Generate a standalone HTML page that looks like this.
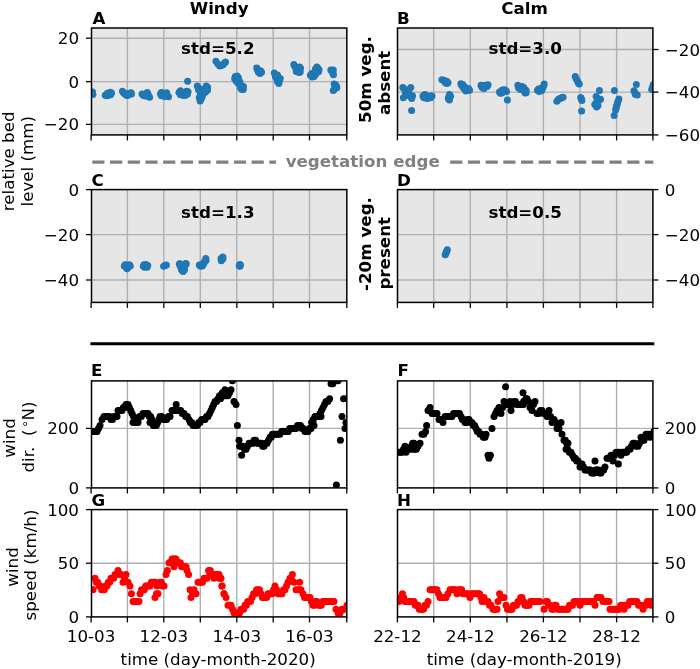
<!DOCTYPE html>
<html lang="en">
<head>
<meta charset="utf-8">
<title>Bed level and wind time series</title>
<style>
html,body{margin:0;padding:0;background:#fff;}
body{width:700px;height:669px;overflow:hidden;}
svg{display:block;font-family:'DejaVu Sans', 'Liberation Sans', sans-serif;will-change:transform;}
</style>
</head>
<body>
<svg width="700" height="669" viewBox="0 0 700 669">
<rect width="700" height="669" fill="#fff"/>
<rect x="91.5" y="28" width="255.3" height="106.9" fill="#e6e6e6"/>
<line x1="127.4" y1="28" x2="127.4" y2="134.9" stroke="#b0b0b0" stroke-width="1.4"/>
<line x1="163.8" y1="28" x2="163.8" y2="134.9" stroke="#b0b0b0" stroke-width="1.4"/>
<line x1="200.3" y1="28" x2="200.3" y2="134.9" stroke="#b0b0b0" stroke-width="1.4"/>
<line x1="236.8" y1="28" x2="236.8" y2="134.9" stroke="#b0b0b0" stroke-width="1.4"/>
<line x1="273.2" y1="28" x2="273.2" y2="134.9" stroke="#b0b0b0" stroke-width="1.4"/>
<line x1="309.5" y1="28" x2="309.5" y2="134.9" stroke="#b0b0b0" stroke-width="1.4"/>
<line x1="91.5" y1="124.4" x2="346.8" y2="124.4" stroke="#b0b0b0" stroke-width="1.4"/>
<line x1="91.5" y1="81.6" x2="346.8" y2="81.6" stroke="#b0b0b0" stroke-width="1.4"/>
<line x1="91.5" y1="38.2" x2="346.8" y2="38.2" stroke="#b0b0b0" stroke-width="1.4"/>
<clipPath id="c1"><rect x="91.5" y="28" width="255.3" height="106.9"/></clipPath>
<g clip-path="url(#c1)" fill="#1f77b4">
<circle cx="92.47" cy="93.16" r="3.5"/>
<circle cx="92.87" cy="94.52" r="3.5"/>
<circle cx="92.5" cy="92" r="3.5"/>
<circle cx="105.27" cy="95.34" r="3.5"/>
<circle cx="106.89" cy="95.69" r="3.5"/>
<circle cx="108.46" cy="94.32" r="3.5"/>
<circle cx="109.57" cy="93.75" r="3.5"/>
<circle cx="111.54" cy="93" r="3.5"/>
<circle cx="107.42" cy="93.27" r="3.5"/>
<circle cx="109.27" cy="95.06" r="3.5"/>
<circle cx="110.53" cy="94.82" r="3.5"/>
<circle cx="110.21" cy="92.21" r="3.5"/>
<circle cx="122.44" cy="91.24" r="3.5"/>
<circle cx="123.48" cy="92.65" r="3.5"/>
<circle cx="125" cy="93.96" r="3.5"/>
<circle cx="126.28" cy="95.09" r="3.5"/>
<circle cx="127.43" cy="95.51" r="3.5"/>
<circle cx="128.59" cy="94.72" r="3.5"/>
<circle cx="130" cy="93.54" r="3.5"/>
<circle cx="131.02" cy="92.64" r="3.5"/>
<circle cx="131.5" cy="93.98" r="3.5"/>
<circle cx="127.52" cy="93.87" r="3.5"/>
<circle cx="125.5" cy="93.56" r="3.5"/>
<circle cx="141.99" cy="94.09" r="3.5"/>
<circle cx="143.49" cy="95.41" r="3.5"/>
<circle cx="144.94" cy="94.23" r="3.5"/>
<circle cx="146.05" cy="93.5" r="3.5"/>
<circle cx="147.3" cy="92.46" r="3.5"/>
<circle cx="148.03" cy="94.18" r="3.5"/>
<circle cx="148.53" cy="95.82" r="3.5"/>
<circle cx="149.59" cy="97.22" r="3.5"/>
<circle cx="146.78" cy="96.05" r="3.5"/>
<circle cx="145.3" cy="96.1" r="3.5"/>
<circle cx="160.49" cy="94.1" r="3.5"/>
<circle cx="161.39" cy="92.61" r="3.5"/>
<circle cx="162.85" cy="93.36" r="3.5"/>
<circle cx="164.15" cy="94.48" r="3.5"/>
<circle cx="165.5" cy="94.96" r="3.5"/>
<circle cx="166.62" cy="92.83" r="3.5"/>
<circle cx="167.52" cy="95.85" r="3.5"/>
<circle cx="168.55" cy="96.79" r="3.5"/>
<circle cx="161.47" cy="95.83" r="3.5"/>
<circle cx="164.84" cy="96.53" r="3.5"/>
<circle cx="163.71" cy="96.05" r="3.5"/>
<circle cx="179" cy="92.57" r="3.5"/>
<circle cx="180.4" cy="90.8" r="3.5"/>
<circle cx="181.93" cy="92.25" r="3.5"/>
<circle cx="183.47" cy="93.16" r="3.5"/>
<circle cx="184.62" cy="92.33" r="3.5"/>
<circle cx="186.58" cy="91.27" r="3.5"/>
<circle cx="188.03" cy="91.67" r="3.5"/>
<circle cx="187.51" cy="93.91" r="3.5"/>
<circle cx="182.29" cy="95.09" r="3.5"/>
<circle cx="185.64" cy="95.15" r="3.5"/>
<circle cx="183.93" cy="95.5" r="3.5"/>
<circle cx="180.45" cy="94.78" r="3.5"/>
<circle cx="187.6" cy="81.2" r="3.5"/>
<circle cx="197.32" cy="85.89" r="3.5"/>
<circle cx="198.83" cy="87.88" r="3.5"/>
<circle cx="200.84" cy="90.36" r="3.5"/>
<circle cx="202.5" cy="92" r="3.5"/>
<circle cx="204.22" cy="88.92" r="3.5"/>
<circle cx="206.22" cy="85.92" r="3.5"/>
<circle cx="207.62" cy="87.32" r="3.5"/>
<circle cx="207.52" cy="90.16" r="3.5"/>
<circle cx="203.68" cy="93.61" r="3.5"/>
<circle cx="200.37" cy="93.66" r="3.5"/>
<circle cx="199.24" cy="97.56" r="3.5"/>
<circle cx="200.11" cy="101.01" r="3.5"/>
<circle cx="202.02" cy="97" r="3.5"/>
<circle cx="205.5" cy="91.98" r="3.5"/>
<circle cx="202.82" cy="90.47" r="3.5"/>
<circle cx="198.44" cy="89.74" r="3.5"/>
<circle cx="201.08" cy="99.01" r="3.5"/>
<circle cx="215.95" cy="61.23" r="3.5"/>
<circle cx="218" cy="63.99" r="3.5"/>
<circle cx="219.78" cy="66.08" r="3.5"/>
<circle cx="221.43" cy="65.5" r="3.5"/>
<circle cx="223.05" cy="64.78" r="3.5"/>
<circle cx="224.51" cy="63.12" r="3.5"/>
<circle cx="225.54" cy="62" r="3.5"/>
<circle cx="235.26" cy="76.43" r="3.5"/>
<circle cx="236.74" cy="78.44" r="3.5"/>
<circle cx="238.21" cy="80.95" r="3.5"/>
<circle cx="239.11" cy="82.68" r="3.5"/>
<circle cx="240.71" cy="85.09" r="3.5"/>
<circle cx="242.23" cy="87.58" r="3.5"/>
<circle cx="243.24" cy="89.57" r="3.5"/>
<circle cx="237.13" cy="75.98" r="3.5"/>
<circle cx="236.35" cy="79.86" r="3.5"/>
<circle cx="234.67" cy="78.64" r="3.5"/>
<circle cx="236.25" cy="81.22" r="3.5"/>
<circle cx="238.27" cy="83.58" r="3.5"/>
<circle cx="240.37" cy="87.82" r="3.5"/>
<circle cx="243.42" cy="86.47" r="3.5"/>
<circle cx="239.91" cy="81.81" r="3.5"/>
<circle cx="238.54" cy="78" r="3.5"/>
<circle cx="241.81" cy="89.54" r="3.5"/>
<circle cx="256.79" cy="67.91" r="3.5"/>
<circle cx="257.44" cy="70.24" r="3.5"/>
<circle cx="258.32" cy="72.11" r="3.5"/>
<circle cx="259.85" cy="73.52" r="3.5"/>
<circle cx="261.55" cy="72.29" r="3.5"/>
<circle cx="260.53" cy="70.66" r="3.5"/>
<circle cx="274.26" cy="72.93" r="3.5"/>
<circle cx="275.75" cy="75.43" r="3.5"/>
<circle cx="277.15" cy="77.48" r="3.5"/>
<circle cx="278.1" cy="78.7" r="3.5"/>
<circle cx="279.23" cy="81.08" r="3.5"/>
<circle cx="278.86" cy="83.52" r="3.5"/>
<circle cx="276.85" cy="78.64" r="3.5"/>
<circle cx="280.3" cy="78.45" r="3.5"/>
<circle cx="277.48" cy="81.5" r="3.5"/>
<circle cx="275.41" cy="76.79" r="3.5"/>
<circle cx="277.48" cy="75" r="3.5"/>
<circle cx="293.82" cy="64.38" r="3.5"/>
<circle cx="294.89" cy="66.81" r="3.5"/>
<circle cx="296.5" cy="69.03" r="3.5"/>
<circle cx="297.56" cy="71" r="3.5"/>
<circle cx="299.06" cy="69.77" r="3.5"/>
<circle cx="300.53" cy="68.16" r="3.5"/>
<circle cx="300.19" cy="72.11" r="3.5"/>
<circle cx="296.26" cy="71.57" r="3.5"/>
<circle cx="298.85" cy="72.52" r="3.5"/>
<circle cx="297.95" cy="67.5" r="3.5"/>
<circle cx="299.67" cy="66.88" r="3.5"/>
<circle cx="310.42" cy="75.24" r="3.5"/>
<circle cx="312.26" cy="77.07" r="3.5"/>
<circle cx="313.76" cy="74.57" r="3.5"/>
<circle cx="315" cy="72.5" r="3.5"/>
<circle cx="316.25" cy="70.43" r="3.5"/>
<circle cx="317.75" cy="67.93" r="3.5"/>
<circle cx="319.08" cy="69.77" r="3.5"/>
<circle cx="316.85" cy="66.98" r="3.5"/>
<circle cx="311.77" cy="73.62" r="3.5"/>
<circle cx="314.12" cy="76.51" r="3.5"/>
<circle cx="315.83" cy="74.03" r="3.5"/>
<circle cx="318.5" cy="71.86" r="3.5"/>
<circle cx="315.46" cy="69" r="3.5"/>
<circle cx="330.82" cy="69.89" r="3.5"/>
<circle cx="332.38" cy="71.82" r="3.5"/>
<circle cx="332.89" cy="73.51" r="3.5"/>
<circle cx="333.44" cy="74.73" r="3.5"/>
<circle cx="333.31" cy="69.96" r="3.5"/>
<circle cx="334.16" cy="84.08" r="3.5"/>
<circle cx="335.7" cy="84.99" r="3.5"/>
<circle cx="336.57" cy="86.55" r="3.5"/>
<circle cx="335.31" cy="87.54" r="3.5"/>
<circle cx="334.21" cy="89.55" r="3.5"/>
<circle cx="333.26" cy="90.57" r="3.5"/>
<circle cx="336.82" cy="87.85" r="3.5"/>
</g>
<rect x="91.5" y="28" width="255.3" height="106.9" fill="none" stroke="#000" stroke-width="1.5"/>
<line x1="91.1" y1="134.9" x2="91.1" y2="140.4" stroke="#000" stroke-width="1.3"/>
<line x1="127.4" y1="134.9" x2="127.4" y2="140.4" stroke="#000" stroke-width="1.3"/>
<line x1="163.8" y1="134.9" x2="163.8" y2="140.4" stroke="#000" stroke-width="1.3"/>
<line x1="200.3" y1="134.9" x2="200.3" y2="140.4" stroke="#000" stroke-width="1.3"/>
<line x1="236.8" y1="134.9" x2="236.8" y2="140.4" stroke="#000" stroke-width="1.3"/>
<line x1="273.2" y1="134.9" x2="273.2" y2="140.4" stroke="#000" stroke-width="1.3"/>
<line x1="309.5" y1="134.9" x2="309.5" y2="140.4" stroke="#000" stroke-width="1.3"/>
<line x1="346.8" y1="134.9" x2="346.8" y2="140.4" stroke="#000" stroke-width="1.3"/>
<line x1="86" y1="124.4" x2="91.5" y2="124.4" stroke="#000" stroke-width="1.3"/>
<text x="79" y="130.4" font-size="16.7" font-weight="normal" fill="#000" text-anchor="end">−20</text>
<line x1="86" y1="81.6" x2="91.5" y2="81.6" stroke="#000" stroke-width="1.3"/>
<text x="79" y="87.6" font-size="16.7" font-weight="normal" fill="#000" text-anchor="end">0</text>
<line x1="86" y1="38.2" x2="91.5" y2="38.2" stroke="#000" stroke-width="1.3"/>
<text x="79" y="44.2" font-size="16.7" font-weight="normal" fill="#000" text-anchor="end">20</text>
<text x="92.42" y="24.4" font-size="16.7" font-weight="bold" fill="#000" text-anchor="start">A</text>
<rect x="397.5" y="28" width="255.4" height="106.9" fill="#e6e6e6"/>
<line x1="433.7" y1="28" x2="433.7" y2="134.9" stroke="#b0b0b0" stroke-width="1.4"/>
<line x1="470.3" y1="28" x2="470.3" y2="134.9" stroke="#b0b0b0" stroke-width="1.4"/>
<line x1="506.9" y1="28" x2="506.9" y2="134.9" stroke="#b0b0b0" stroke-width="1.4"/>
<line x1="543.4" y1="28" x2="543.4" y2="134.9" stroke="#b0b0b0" stroke-width="1.4"/>
<line x1="580" y1="28" x2="580" y2="134.9" stroke="#b0b0b0" stroke-width="1.4"/>
<line x1="616.6" y1="28" x2="616.6" y2="134.9" stroke="#b0b0b0" stroke-width="1.4"/>
<line x1="397.5" y1="92.1" x2="652.9" y2="92.1" stroke="#b0b0b0" stroke-width="1.4"/>
<line x1="397.5" y1="49.5" x2="652.9" y2="49.5" stroke="#b0b0b0" stroke-width="1.4"/>
<clipPath id="c2"><rect x="397.5" y="28" width="255.4" height="106.9"/></clipPath>
<g clip-path="url(#c2)" fill="#1f77b4">
<circle cx="402.83" cy="87.38" r="3.5"/>
<circle cx="404.83" cy="89.87" r="3.5"/>
<circle cx="406.88" cy="92.33" r="3.5"/>
<circle cx="408.84" cy="89.47" r="3.5"/>
<circle cx="410.76" cy="87.44" r="3.5"/>
<circle cx="407.84" cy="93.53" r="3.5"/>
<circle cx="405.33" cy="95.63" r="3.5"/>
<circle cx="403.34" cy="97.63" r="3.5"/>
<circle cx="410.68" cy="96.62" r="3.5"/>
<circle cx="412.56" cy="95.76" r="3.5"/>
<circle cx="411.71" cy="98.6" r="3.5"/>
<circle cx="408.67" cy="91.87" r="3.5"/>
<circle cx="405.5" cy="93" r="3.5"/>
<circle cx="411.6" cy="110.4" r="3.5"/>
<circle cx="423" cy="96.07" r="3.5"/>
<circle cx="424.99" cy="96.92" r="3.5"/>
<circle cx="426.71" cy="95.96" r="3.5"/>
<circle cx="428" cy="96.54" r="3.5"/>
<circle cx="430.01" cy="96.09" r="3.5"/>
<circle cx="432" cy="96.05" r="3.5"/>
<circle cx="427" cy="98.5" r="3.5"/>
<circle cx="425.34" cy="94.86" r="3.5"/>
<circle cx="424.41" cy="94.79" r="3.5"/>
<circle cx="428.19" cy="98.11" r="3.5"/>
<circle cx="430.52" cy="97.66" r="3.5"/>
<circle cx="423.96" cy="97.82" r="3.5"/>
<circle cx="441.94" cy="79.74" r="3.5"/>
<circle cx="443.89" cy="80.32" r="3.5"/>
<circle cx="445.5" cy="81" r="3.5"/>
<circle cx="447" cy="81.54" r="3.5"/>
<circle cx="446.73" cy="83.58" r="3.5"/>
<circle cx="445.17" cy="82.53" r="3.5"/>
<circle cx="448.04" cy="82.79" r="3.5"/>
<circle cx="449.47" cy="94.5" r="3.5"/>
<circle cx="448.88" cy="96.83" r="3.5"/>
<circle cx="448.29" cy="98.59" r="3.5"/>
<circle cx="449.47" cy="100" r="3.5"/>
<circle cx="450.59" cy="96.29" r="3.5"/>
<circle cx="460.86" cy="83.84" r="3.5"/>
<circle cx="461.91" cy="85.78" r="3.5"/>
<circle cx="463.5" cy="88.02" r="3.5"/>
<circle cx="465.08" cy="89.51" r="3.5"/>
<circle cx="466.75" cy="90.57" r="3.5"/>
<circle cx="468.56" cy="89.77" r="3.5"/>
<circle cx="469.56" cy="90.27" r="3.5"/>
<circle cx="464.27" cy="86.42" r="3.5"/>
<circle cx="462.78" cy="84.41" r="3.5"/>
<circle cx="464.91" cy="87.79" r="3.5"/>
<circle cx="466.56" cy="88.76" r="3.5"/>
<circle cx="465.9" cy="91.01" r="3.5"/>
<circle cx="468.5" cy="88.44" r="3.5"/>
<circle cx="480.97" cy="85.18" r="3.5"/>
<circle cx="482.99" cy="86.12" r="3.5"/>
<circle cx="484.45" cy="85.5" r="3.5"/>
<circle cx="486.09" cy="85.28" r="3.5"/>
<circle cx="488.05" cy="84.71" r="3.5"/>
<circle cx="483.27" cy="88.08" r="3.5"/>
<circle cx="484.74" cy="87.07" r="3.5"/>
<circle cx="481.97" cy="87.33" r="3.5"/>
<circle cx="487" cy="86.49" r="3.5"/>
<circle cx="484.07" cy="88.5" r="3.5"/>
<circle cx="499.49" cy="91.9" r="3.5"/>
<circle cx="501.5" cy="91.05" r="3.5"/>
<circle cx="502.93" cy="90.99" r="3.5"/>
<circle cx="504.5" cy="91.04" r="3.5"/>
<circle cx="506.5" cy="91.46" r="3.5"/>
<circle cx="501.76" cy="93.07" r="3.5"/>
<circle cx="502.24" cy="89.94" r="3.5"/>
<circle cx="504.18" cy="89.68" r="3.5"/>
<circle cx="500.39" cy="93.19" r="3.5"/>
<circle cx="505.53" cy="90.18" r="3.5"/>
<circle cx="507.4" cy="100" r="3.5"/>
<circle cx="517.89" cy="85.31" r="3.5"/>
<circle cx="519.88" cy="86.82" r="3.5"/>
<circle cx="521.85" cy="88.36" r="3.5"/>
<circle cx="523.04" cy="89.3" r="3.5"/>
<circle cx="524.64" cy="91.15" r="3.5"/>
<circle cx="526.14" cy="92.65" r="3.5"/>
<circle cx="523.71" cy="87.41" r="3.5"/>
<circle cx="518.47" cy="87.66" r="3.5"/>
<circle cx="520.49" cy="89.42" r="3.5"/>
<circle cx="522.09" cy="86.49" r="3.5"/>
<circle cx="526.03" cy="90.33" r="3.5"/>
<circle cx="522.34" cy="88.86" r="3.5"/>
<circle cx="523.7" cy="90.6" r="3.5"/>
<circle cx="525.22" cy="93.08" r="3.5"/>
<circle cx="537.45" cy="90.29" r="3.5"/>
<circle cx="539.41" cy="89.71" r="3.5"/>
<circle cx="540.87" cy="89.02" r="3.5"/>
<circle cx="542.53" cy="88.16" r="3.5"/>
<circle cx="543.62" cy="86.33" r="3.5"/>
<circle cx="544.21" cy="83.91" r="3.5"/>
<circle cx="538.5" cy="88.96" r="3.5"/>
<circle cx="540.69" cy="88.46" r="3.5"/>
<circle cx="541.76" cy="90.56" r="3.5"/>
<circle cx="539.24" cy="91.56" r="3.5"/>
<circle cx="556.89" cy="101.19" r="3.5"/>
<circle cx="558.46" cy="99.31" r="3.5"/>
<circle cx="560" cy="98.5" r="3.5"/>
<circle cx="561.57" cy="97.76" r="3.5"/>
<circle cx="563.05" cy="97.22" r="3.5"/>
<circle cx="575.22" cy="76.45" r="3.5"/>
<circle cx="576.25" cy="78.93" r="3.5"/>
<circle cx="577.5" cy="81" r="3.5"/>
<circle cx="578.3" cy="83.04" r="3.5"/>
<circle cx="579.25" cy="84.07" r="3.5"/>
<circle cx="580.69" cy="97.46" r="3.5"/>
<circle cx="581.5" cy="99" r="3.5"/>
<circle cx="581.84" cy="100.53" r="3.5"/>
<circle cx="581.6" cy="111" r="3.5"/>
<circle cx="599.41" cy="90.49" r="3.5"/>
<circle cx="596.16" cy="96.47" r="3.5"/>
<circle cx="597.51" cy="98.5" r="3.5"/>
<circle cx="600.55" cy="99.21" r="3.5"/>
<circle cx="598.52" cy="100.87" r="3.5"/>
<circle cx="596.27" cy="102.58" r="3.5"/>
<circle cx="594.79" cy="104.59" r="3.5"/>
<circle cx="596.58" cy="107.01" r="3.5"/>
<circle cx="597.96" cy="105.5" r="3.5"/>
<circle cx="614.4" cy="90.4" r="3.5"/>
<circle cx="618.86" cy="98.98" r="3.5"/>
<circle cx="617.88" cy="101.48" r="3.5"/>
<circle cx="617.35" cy="103.98" r="3.5"/>
<circle cx="616.5" cy="106" r="3.5"/>
<circle cx="616.14" cy="108.02" r="3.5"/>
<circle cx="615.63" cy="110.02" r="3.5"/>
<circle cx="614.13" cy="115.52" r="3.5"/>
<circle cx="636.34" cy="84.5" r="3.5"/>
<circle cx="633.94" cy="90.74" r="3.5"/>
<circle cx="634.79" cy="92.59" r="3.5"/>
<circle cx="635.5" cy="94.5" r="3.5"/>
<circle cx="637.27" cy="95.06" r="3.5"/>
<circle cx="651.66" cy="89.53" r="3.5"/>
<circle cx="652.5" cy="87" r="3.5"/>
<circle cx="653.34" cy="84.47" r="3.5"/>
</g>
<rect x="397.5" y="28" width="255.4" height="106.9" fill="none" stroke="#000" stroke-width="1.5"/>
<line x1="397.4" y1="134.9" x2="397.4" y2="140.4" stroke="#000" stroke-width="1.3"/>
<line x1="433.7" y1="134.9" x2="433.7" y2="140.4" stroke="#000" stroke-width="1.3"/>
<line x1="470.3" y1="134.9" x2="470.3" y2="140.4" stroke="#000" stroke-width="1.3"/>
<line x1="506.9" y1="134.9" x2="506.9" y2="140.4" stroke="#000" stroke-width="1.3"/>
<line x1="543.4" y1="134.9" x2="543.4" y2="140.4" stroke="#000" stroke-width="1.3"/>
<line x1="580" y1="134.9" x2="580" y2="140.4" stroke="#000" stroke-width="1.3"/>
<line x1="616.6" y1="134.9" x2="616.6" y2="140.4" stroke="#000" stroke-width="1.3"/>
<line x1="652.9" y1="134.9" x2="652.9" y2="140.4" stroke="#000" stroke-width="1.3"/>
<line x1="652.9" y1="134.9" x2="658.4" y2="134.9" stroke="#000" stroke-width="1.3"/>
<text x="664.8" y="140.9" font-size="16.7" font-weight="normal" fill="#000" text-anchor="start">−60</text>
<line x1="652.9" y1="92.1" x2="658.4" y2="92.1" stroke="#000" stroke-width="1.3"/>
<text x="664.8" y="98.1" font-size="16.7" font-weight="normal" fill="#000" text-anchor="start">−40</text>
<line x1="652.9" y1="49.5" x2="658.4" y2="49.5" stroke="#000" stroke-width="1.3"/>
<text x="664.8" y="55.5" font-size="16.7" font-weight="normal" fill="#000" text-anchor="start">−20</text>
<text x="396.98" y="24.4" font-size="16.7" font-weight="bold" fill="#000" text-anchor="start">B</text>
<rect x="91.5" y="189.6" width="255.3" height="112.8" fill="#e6e6e6"/>
<line x1="127.4" y1="189.6" x2="127.4" y2="302.4" stroke="#b0b0b0" stroke-width="1.4"/>
<line x1="163.8" y1="189.6" x2="163.8" y2="302.4" stroke="#b0b0b0" stroke-width="1.4"/>
<line x1="200.3" y1="189.6" x2="200.3" y2="302.4" stroke="#b0b0b0" stroke-width="1.4"/>
<line x1="236.8" y1="189.6" x2="236.8" y2="302.4" stroke="#b0b0b0" stroke-width="1.4"/>
<line x1="273.2" y1="189.6" x2="273.2" y2="302.4" stroke="#b0b0b0" stroke-width="1.4"/>
<line x1="309.5" y1="189.6" x2="309.5" y2="302.4" stroke="#b0b0b0" stroke-width="1.4"/>
<line x1="91.5" y1="280" x2="346.8" y2="280" stroke="#b0b0b0" stroke-width="1.4"/>
<line x1="91.5" y1="234.6" x2="346.8" y2="234.6" stroke="#b0b0b0" stroke-width="1.4"/>
<clipPath id="c3"><rect x="91.5" y="189.6" width="255.3" height="112.8"/></clipPath>
<g clip-path="url(#c3)" fill="#1f77b4">
<circle cx="124.3" cy="266" r="3.5"/>
<circle cx="126.3" cy="267.5" r="3.5"/>
<circle cx="128.3" cy="267.3" r="3.5"/>
<circle cx="130.3" cy="266" r="3.5"/>
<circle cx="127.3" cy="265.3" r="3.5"/>
<circle cx="127" cy="268.8" r="3.5"/>
<circle cx="125.2" cy="264.8" r="3.5"/>
<circle cx="129.5" cy="264.8" r="3.5"/>
<circle cx="143.3" cy="266.3" r="3.5"/>
<circle cx="145.5" cy="266" r="3.5"/>
<circle cx="147.8" cy="265.5" r="3.5"/>
<circle cx="146" cy="264.5" r="3.5"/>
<circle cx="144.5" cy="267.3" r="3.5"/>
<circle cx="147" cy="267.2" r="3.5"/>
<circle cx="144" cy="264.8" r="3.5"/>
<circle cx="163.6" cy="266.3" r="3.5"/>
<circle cx="165" cy="265.5" r="3.5"/>
<circle cx="166.4" cy="264.9" r="3.5"/>
<circle cx="179.3" cy="264" r="3.5"/>
<circle cx="180.3" cy="266.5" r="3.5"/>
<circle cx="181.5" cy="268.5" r="3.5"/>
<circle cx="182.5" cy="270.5" r="3.5"/>
<circle cx="184" cy="268" r="3.5"/>
<circle cx="185" cy="265.5" r="3.5"/>
<circle cx="186.3" cy="263.8" r="3.5"/>
<circle cx="183" cy="266" r="3.5"/>
<circle cx="181.5" cy="269.8" r="3.5"/>
<circle cx="184.5" cy="269.8" r="3.5"/>
<circle cx="183" cy="271.6" r="3.5"/>
<circle cx="180" cy="263.8" r="3.5"/>
<circle cx="185.5" cy="263.5" r="3.5"/>
<circle cx="199.3" cy="265" r="3.5"/>
<circle cx="201.5" cy="264.5" r="3.5"/>
<circle cx="203.5" cy="264" r="3.5"/>
<circle cx="204.5" cy="261.5" r="3.5"/>
<circle cx="205.8" cy="258.6" r="3.5"/>
<circle cx="204" cy="263" r="3.5"/>
<circle cx="200.5" cy="266.2" r="3.5"/>
<circle cx="202.3" cy="266" r="3.5"/>
<circle cx="206" cy="260.5" r="3.5"/>
<circle cx="221" cy="258.5" r="3.5"/>
<circle cx="222.8" cy="256.9" r="3.5"/>
<circle cx="221.3" cy="260.8" r="3.5"/>
<circle cx="223" cy="258.8" r="3.5"/>
<circle cx="239.2" cy="265.8" r="3.5"/>
<circle cx="240.4" cy="265" r="3.5"/>
<circle cx="239.8" cy="264.6" r="3.5"/>
<circle cx="240" cy="266.2" r="3.5"/>
</g>
<rect x="91.5" y="189.6" width="255.3" height="112.8" fill="none" stroke="#000" stroke-width="1.5"/>
<line x1="91.1" y1="302.4" x2="91.1" y2="307.9" stroke="#000" stroke-width="1.3"/>
<line x1="127.4" y1="302.4" x2="127.4" y2="307.9" stroke="#000" stroke-width="1.3"/>
<line x1="163.8" y1="302.4" x2="163.8" y2="307.9" stroke="#000" stroke-width="1.3"/>
<line x1="200.3" y1="302.4" x2="200.3" y2="307.9" stroke="#000" stroke-width="1.3"/>
<line x1="236.8" y1="302.4" x2="236.8" y2="307.9" stroke="#000" stroke-width="1.3"/>
<line x1="273.2" y1="302.4" x2="273.2" y2="307.9" stroke="#000" stroke-width="1.3"/>
<line x1="309.5" y1="302.4" x2="309.5" y2="307.9" stroke="#000" stroke-width="1.3"/>
<line x1="346.8" y1="302.4" x2="346.8" y2="307.9" stroke="#000" stroke-width="1.3"/>
<line x1="86" y1="280" x2="91.5" y2="280" stroke="#000" stroke-width="1.3"/>
<text x="79" y="286" font-size="16.7" font-weight="normal" fill="#000" text-anchor="end">−40</text>
<line x1="86" y1="234.6" x2="91.5" y2="234.6" stroke="#000" stroke-width="1.3"/>
<text x="79" y="240.6" font-size="16.7" font-weight="normal" fill="#000" text-anchor="end">−20</text>
<line x1="86" y1="189.6" x2="91.5" y2="189.6" stroke="#000" stroke-width="1.3"/>
<text x="79" y="195.6" font-size="16.7" font-weight="normal" fill="#000" text-anchor="end">0</text>
<text x="91.61" y="186.3" font-size="16.7" font-weight="bold" fill="#000" text-anchor="start">C</text>
<rect x="397.5" y="189.6" width="255.4" height="112.8" fill="#e6e6e6"/>
<line x1="433.7" y1="189.6" x2="433.7" y2="302.4" stroke="#b0b0b0" stroke-width="1.4"/>
<line x1="470.3" y1="189.6" x2="470.3" y2="302.4" stroke="#b0b0b0" stroke-width="1.4"/>
<line x1="506.9" y1="189.6" x2="506.9" y2="302.4" stroke="#b0b0b0" stroke-width="1.4"/>
<line x1="543.4" y1="189.6" x2="543.4" y2="302.4" stroke="#b0b0b0" stroke-width="1.4"/>
<line x1="580" y1="189.6" x2="580" y2="302.4" stroke="#b0b0b0" stroke-width="1.4"/>
<line x1="616.6" y1="189.6" x2="616.6" y2="302.4" stroke="#b0b0b0" stroke-width="1.4"/>
<line x1="397.5" y1="280" x2="652.9" y2="280" stroke="#b0b0b0" stroke-width="1.4"/>
<line x1="397.5" y1="234.6" x2="652.9" y2="234.6" stroke="#b0b0b0" stroke-width="1.4"/>
<clipPath id="c4"><rect x="397.5" y="189.6" width="255.4" height="112.8"/></clipPath>
<g clip-path="url(#c4)" fill="#1f77b4">
<circle cx="445.2" cy="254.8" r="3.5"/>
<circle cx="445.8" cy="253.5" r="3.5"/>
<circle cx="446.3" cy="252.3" r="3.5"/>
<circle cx="446.8" cy="251" r="3.5"/>
<circle cx="447.3" cy="249.8" r="3.5"/>
</g>
<rect x="397.5" y="189.6" width="255.4" height="112.8" fill="none" stroke="#000" stroke-width="1.5"/>
<line x1="397.4" y1="302.4" x2="397.4" y2="307.9" stroke="#000" stroke-width="1.3"/>
<line x1="433.7" y1="302.4" x2="433.7" y2="307.9" stroke="#000" stroke-width="1.3"/>
<line x1="470.3" y1="302.4" x2="470.3" y2="307.9" stroke="#000" stroke-width="1.3"/>
<line x1="506.9" y1="302.4" x2="506.9" y2="307.9" stroke="#000" stroke-width="1.3"/>
<line x1="543.4" y1="302.4" x2="543.4" y2="307.9" stroke="#000" stroke-width="1.3"/>
<line x1="580" y1="302.4" x2="580" y2="307.9" stroke="#000" stroke-width="1.3"/>
<line x1="616.6" y1="302.4" x2="616.6" y2="307.9" stroke="#000" stroke-width="1.3"/>
<line x1="652.9" y1="302.4" x2="652.9" y2="307.9" stroke="#000" stroke-width="1.3"/>
<line x1="652.9" y1="280" x2="658.4" y2="280" stroke="#000" stroke-width="1.3"/>
<text x="664.8" y="286" font-size="16.7" font-weight="normal" fill="#000" text-anchor="start">−40</text>
<line x1="652.9" y1="234.6" x2="658.4" y2="234.6" stroke="#000" stroke-width="1.3"/>
<text x="664.8" y="240.6" font-size="16.7" font-weight="normal" fill="#000" text-anchor="start">−20</text>
<line x1="652.9" y1="189.6" x2="658.4" y2="189.6" stroke="#000" stroke-width="1.3"/>
<text x="664.8" y="195.6" font-size="16.7" font-weight="normal" fill="#000" text-anchor="start">0</text>
<text x="396.98" y="186.3" font-size="16.7" font-weight="bold" fill="#000" text-anchor="start">D</text>
<rect x="91.5" y="380.9" width="255.3" height="107" fill="#fff"/>
<line x1="127.4" y1="380.9" x2="127.4" y2="487.9" stroke="#b0b0b0" stroke-width="1.4"/>
<line x1="163.8" y1="380.9" x2="163.8" y2="487.9" stroke="#b0b0b0" stroke-width="1.4"/>
<line x1="200.3" y1="380.9" x2="200.3" y2="487.9" stroke="#b0b0b0" stroke-width="1.4"/>
<line x1="236.8" y1="380.9" x2="236.8" y2="487.9" stroke="#b0b0b0" stroke-width="1.4"/>
<line x1="273.2" y1="380.9" x2="273.2" y2="487.9" stroke="#b0b0b0" stroke-width="1.4"/>
<line x1="309.5" y1="380.9" x2="309.5" y2="487.9" stroke="#b0b0b0" stroke-width="1.4"/>
<line x1="91.5" y1="428.4" x2="346.8" y2="428.4" stroke="#b0b0b0" stroke-width="1.4"/>
<clipPath id="c5"><rect x="91.5" y="380.9" width="255.3" height="107"/></clipPath>
<g clip-path="url(#c5)" fill="#000">
<circle cx="93" cy="431.38" r="3.5"/>
<circle cx="94.33" cy="431.38" r="3.5"/>
<circle cx="95.67" cy="431.38" r="3.5"/>
<circle cx="97" cy="431.38" r="3.5"/>
<circle cx="98.5" cy="428.4" r="3.5"/>
<circle cx="100" cy="425.42" r="3.5"/>
<circle cx="102" cy="419.47" r="3.5"/>
<circle cx="104" cy="416.5" r="3.5"/>
<circle cx="105.33" cy="416.5" r="3.5"/>
<circle cx="106.67" cy="416.5" r="3.5"/>
<circle cx="108" cy="416.5" r="3.5"/>
<circle cx="109.5" cy="416.5" r="3.5"/>
<circle cx="111" cy="419.47" r="3.5"/>
<circle cx="112.5" cy="419.47" r="3.5"/>
<circle cx="114" cy="416.5" r="3.5"/>
<circle cx="115.5" cy="416.5" r="3.5"/>
<circle cx="117" cy="416.5" r="3.5"/>
<circle cx="118" cy="410.55" r="3.5"/>
<circle cx="119.33" cy="410.55" r="3.5"/>
<circle cx="120.67" cy="410.55" r="3.5"/>
<circle cx="122" cy="410.55" r="3.5"/>
<circle cx="123.33" cy="407.57" r="3.5"/>
<circle cx="124.67" cy="407.57" r="3.5"/>
<circle cx="126" cy="404.6" r="3.5"/>
<circle cx="128" cy="404.6" r="3.5"/>
<circle cx="129.33" cy="407.57" r="3.5"/>
<circle cx="130.67" cy="410.55" r="3.5"/>
<circle cx="132" cy="413.52" r="3.5"/>
<circle cx="133.5" cy="416.5" r="3.5"/>
<circle cx="135" cy="419.47" r="3.5"/>
<circle cx="133" cy="422.45" r="3.5"/>
<circle cx="134.67" cy="422.45" r="3.5"/>
<circle cx="136.33" cy="422.45" r="3.5"/>
<circle cx="138" cy="422.45" r="3.5"/>
<circle cx="138" cy="419.47" r="3.5"/>
<circle cx="139.67" cy="416.5" r="3.5"/>
<circle cx="141.33" cy="416.5" r="3.5"/>
<circle cx="143" cy="413.52" r="3.5"/>
<circle cx="144.67" cy="413.52" r="3.5"/>
<circle cx="146.33" cy="413.52" r="3.5"/>
<circle cx="148" cy="413.52" r="3.5"/>
<circle cx="149.33" cy="416.5" r="3.5"/>
<circle cx="150.67" cy="416.5" r="3.5"/>
<circle cx="152" cy="419.47" r="3.5"/>
<circle cx="150" cy="422.45" r="3.5"/>
<circle cx="151.67" cy="422.45" r="3.5"/>
<circle cx="153.33" cy="425.42" r="3.5"/>
<circle cx="155" cy="425.42" r="3.5"/>
<circle cx="156.33" cy="425.42" r="3.5"/>
<circle cx="157.67" cy="422.45" r="3.5"/>
<circle cx="159" cy="419.47" r="3.5"/>
<circle cx="160" cy="416.5" r="3.5"/>
<circle cx="161.67" cy="416.5" r="3.5"/>
<circle cx="163.33" cy="419.47" r="3.5"/>
<circle cx="165" cy="419.47" r="3.5"/>
<circle cx="166.67" cy="419.47" r="3.5"/>
<circle cx="168.33" cy="416.5" r="3.5"/>
<circle cx="170" cy="416.5" r="3.5"/>
<circle cx="172" cy="410.55" r="3.5"/>
<circle cx="173.33" cy="410.55" r="3.5"/>
<circle cx="174.67" cy="410.55" r="3.5"/>
<circle cx="176" cy="410.55" r="3.5"/>
<circle cx="177.5" cy="410.55" r="3.5"/>
<circle cx="179" cy="410.55" r="3.5"/>
<circle cx="180.67" cy="410.55" r="3.5"/>
<circle cx="182.33" cy="413.52" r="3.5"/>
<circle cx="184" cy="413.52" r="3.5"/>
<circle cx="185.67" cy="416.5" r="3.5"/>
<circle cx="187.33" cy="416.5" r="3.5"/>
<circle cx="189" cy="419.47" r="3.5"/>
<circle cx="190.33" cy="422.45" r="3.5"/>
<circle cx="191.67" cy="422.45" r="3.5"/>
<circle cx="193" cy="425.42" r="3.5"/>
<circle cx="194.5" cy="425.42" r="3.5"/>
<circle cx="196" cy="425.42" r="3.5"/>
<circle cx="197.33" cy="425.42" r="3.5"/>
<circle cx="198.67" cy="422.45" r="3.5"/>
<circle cx="200" cy="422.45" r="3.5"/>
<circle cx="201.67" cy="419.47" r="3.5"/>
<circle cx="203.33" cy="419.47" r="3.5"/>
<circle cx="205" cy="419.47" r="3.5"/>
<circle cx="206.5" cy="416.5" r="3.5"/>
<circle cx="208" cy="416.5" r="3.5"/>
<circle cx="209.5" cy="413.52" r="3.5"/>
<circle cx="211" cy="410.55" r="3.5"/>
<circle cx="212.33" cy="407.57" r="3.5"/>
<circle cx="213.67" cy="404.6" r="3.5"/>
<circle cx="215" cy="401.62" r="3.5"/>
<circle cx="216.5" cy="401.62" r="3.5"/>
<circle cx="218" cy="398.65" r="3.5"/>
<circle cx="219.5" cy="395.67" r="3.5"/>
<circle cx="221" cy="395.67" r="3.5"/>
<circle cx="222.33" cy="392.7" r="3.5"/>
<circle cx="223.67" cy="392.7" r="3.5"/>
<circle cx="225" cy="389.72" r="3.5"/>
<circle cx="226.5" cy="392.7" r="3.5"/>
<circle cx="228" cy="395.67" r="3.5"/>
<circle cx="229.5" cy="392.7" r="3.5"/>
<circle cx="231" cy="389.72" r="3.5"/>
<circle cx="219" cy="398.65" r="3.5"/>
<circle cx="220.5" cy="398.65" r="3.5"/>
<circle cx="222" cy="395.67" r="3.5"/>
<circle cx="223.33" cy="395.67" r="3.5"/>
<circle cx="224.67" cy="395.67" r="3.5"/>
<circle cx="226" cy="395.67" r="3.5"/>
<circle cx="232.4" cy="380.8" r="3.5"/>
<circle cx="234" cy="401.62" r="3.5"/>
<circle cx="236" cy="404.6" r="3.5"/>
<circle cx="237.4" cy="425.42" r="3.5"/>
<circle cx="239" cy="440.3" r="3.5"/>
<circle cx="239.6" cy="446.25" r="3.5"/>
<circle cx="241.3" cy="446.25" r="3.5"/>
<circle cx="243" cy="446.25" r="3.5"/>
<circle cx="244.5" cy="449.22" r="3.5"/>
<circle cx="246" cy="449.22" r="3.5"/>
<circle cx="247.5" cy="446.25" r="3.5"/>
<circle cx="249" cy="443.27" r="3.5"/>
<circle cx="251" cy="443.27" r="3.5"/>
<circle cx="252.53" cy="443.27" r="3.5"/>
<circle cx="254.07" cy="440.3" r="3.5"/>
<circle cx="255.6" cy="440.3" r="3.5"/>
<circle cx="257.07" cy="443.27" r="3.5"/>
<circle cx="258.53" cy="443.27" r="3.5"/>
<circle cx="260" cy="443.27" r="3.5"/>
<circle cx="261.33" cy="443.27" r="3.5"/>
<circle cx="262.67" cy="446.25" r="3.5"/>
<circle cx="264" cy="446.25" r="3.5"/>
<circle cx="265.5" cy="443.27" r="3.5"/>
<circle cx="267" cy="443.27" r="3.5"/>
<circle cx="268.5" cy="440.3" r="3.5"/>
<circle cx="270" cy="437.32" r="3.5"/>
<circle cx="271.2" cy="437.32" r="3.5"/>
<circle cx="272.4" cy="434.35" r="3.5"/>
<circle cx="273.8" cy="434.35" r="3.5"/>
<circle cx="275.2" cy="434.35" r="3.5"/>
<circle cx="276.6" cy="434.35" r="3.5"/>
<circle cx="278" cy="434.35" r="3.5"/>
<circle cx="279.8" cy="434.35" r="3.5"/>
<circle cx="281.6" cy="431.38" r="3.5"/>
<circle cx="282.95" cy="431.38" r="3.5"/>
<circle cx="284.3" cy="431.38" r="3.5"/>
<circle cx="285.65" cy="431.38" r="3.5"/>
<circle cx="287" cy="431.38" r="3.5"/>
<circle cx="288.33" cy="431.38" r="3.5"/>
<circle cx="289.67" cy="428.4" r="3.5"/>
<circle cx="291" cy="428.4" r="3.5"/>
<circle cx="292.67" cy="428.4" r="3.5"/>
<circle cx="294.33" cy="428.4" r="3.5"/>
<circle cx="296" cy="428.4" r="3.5"/>
<circle cx="297.5" cy="425.42" r="3.5"/>
<circle cx="299" cy="425.42" r="3.5"/>
<circle cx="300.5" cy="425.42" r="3.5"/>
<circle cx="302" cy="428.4" r="3.5"/>
<circle cx="303.5" cy="428.4" r="3.5"/>
<circle cx="305" cy="431.38" r="3.5"/>
<circle cx="306.5" cy="431.38" r="3.5"/>
<circle cx="308" cy="431.38" r="3.5"/>
<circle cx="309.5" cy="428.4" r="3.5"/>
<circle cx="311" cy="428.4" r="3.5"/>
<circle cx="312.5" cy="425.42" r="3.5"/>
<circle cx="314" cy="425.42" r="3.5"/>
<circle cx="312.8" cy="422.45" r="3.5"/>
<circle cx="311.6" cy="422.45" r="3.5"/>
<circle cx="313.3" cy="419.47" r="3.5"/>
<circle cx="315" cy="416.5" r="3.5"/>
<circle cx="316.5" cy="416.5" r="3.5"/>
<circle cx="318" cy="416.5" r="3.5"/>
<circle cx="319.5" cy="416.5" r="3.5"/>
<circle cx="321" cy="416.5" r="3.5"/>
<circle cx="320" cy="413.52" r="3.5"/>
<circle cx="321.5" cy="410.55" r="3.5"/>
<circle cx="323" cy="407.57" r="3.5"/>
<circle cx="324.5" cy="404.6" r="3.5"/>
<circle cx="326" cy="401.62" r="3.5"/>
<circle cx="327.8" cy="401.62" r="3.5"/>
<circle cx="329.6" cy="398.65" r="3.5"/>
<circle cx="241.6" cy="455.17" r="3.5"/>
<circle cx="176.2" cy="404.6" r="3.5"/>
<circle cx="331" cy="383.77" r="3.5"/>
<circle cx="332.75" cy="383.77" r="3.5"/>
<circle cx="334.5" cy="380.8" r="3.5"/>
<circle cx="336.25" cy="380.8" r="3.5"/>
<circle cx="338" cy="380.8" r="3.5"/>
<circle cx="343.6" cy="398.65" r="3.5"/>
<circle cx="342" cy="416.5" r="3.5"/>
<circle cx="346" cy="422.45" r="3.5"/>
<circle cx="345" cy="428.4" r="3.5"/>
<circle cx="340.4" cy="440.3" r="3.5"/>
<circle cx="336.4" cy="484.92" r="3.5"/>
<circle cx="347" cy="398.65" r="3.5"/>
</g>
<rect x="91.5" y="380.9" width="255.3" height="107" fill="none" stroke="#000" stroke-width="1.5"/>
<line x1="91.1" y1="487.9" x2="91.1" y2="493.4" stroke="#000" stroke-width="1.3"/>
<line x1="127.4" y1="487.9" x2="127.4" y2="493.4" stroke="#000" stroke-width="1.3"/>
<line x1="163.8" y1="487.9" x2="163.8" y2="493.4" stroke="#000" stroke-width="1.3"/>
<line x1="200.3" y1="487.9" x2="200.3" y2="493.4" stroke="#000" stroke-width="1.3"/>
<line x1="236.8" y1="487.9" x2="236.8" y2="493.4" stroke="#000" stroke-width="1.3"/>
<line x1="273.2" y1="487.9" x2="273.2" y2="493.4" stroke="#000" stroke-width="1.3"/>
<line x1="309.5" y1="487.9" x2="309.5" y2="493.4" stroke="#000" stroke-width="1.3"/>
<line x1="346.8" y1="487.9" x2="346.8" y2="493.4" stroke="#000" stroke-width="1.3"/>
<line x1="86" y1="487.9" x2="91.5" y2="487.9" stroke="#000" stroke-width="1.3"/>
<text x="79" y="493.9" font-size="16.7" font-weight="normal" fill="#000" text-anchor="end">0</text>
<line x1="86" y1="428.4" x2="91.5" y2="428.4" stroke="#000" stroke-width="1.3"/>
<text x="79" y="434.4" font-size="16.7" font-weight="normal" fill="#000" text-anchor="end">200</text>
<text x="90.98" y="376.1" font-size="16.7" font-weight="bold" fill="#000" text-anchor="start">E</text>
<rect x="397.5" y="380.9" width="255.4" height="107" fill="#fff"/>
<line x1="433.7" y1="380.9" x2="433.7" y2="487.9" stroke="#b0b0b0" stroke-width="1.4"/>
<line x1="470.3" y1="380.9" x2="470.3" y2="487.9" stroke="#b0b0b0" stroke-width="1.4"/>
<line x1="506.9" y1="380.9" x2="506.9" y2="487.9" stroke="#b0b0b0" stroke-width="1.4"/>
<line x1="543.4" y1="380.9" x2="543.4" y2="487.9" stroke="#b0b0b0" stroke-width="1.4"/>
<line x1="580" y1="380.9" x2="580" y2="487.9" stroke="#b0b0b0" stroke-width="1.4"/>
<line x1="616.6" y1="380.9" x2="616.6" y2="487.9" stroke="#b0b0b0" stroke-width="1.4"/>
<line x1="397.5" y1="428.4" x2="652.9" y2="428.4" stroke="#b0b0b0" stroke-width="1.4"/>
<clipPath id="c6"><rect x="397.5" y="380.9" width="255.4" height="107"/></clipPath>
<g clip-path="url(#c6)" fill="#000">
<circle cx="399" cy="452.2" r="3.5"/>
<circle cx="400.5" cy="452.2" r="3.5"/>
<circle cx="402" cy="452.2" r="3.5"/>
<circle cx="403.5" cy="449.22" r="3.5"/>
<circle cx="405" cy="446.25" r="3.5"/>
<circle cx="406" cy="452.2" r="3.5"/>
<circle cx="407.33" cy="449.22" r="3.5"/>
<circle cx="408.67" cy="449.22" r="3.5"/>
<circle cx="410" cy="449.22" r="3.5"/>
<circle cx="411.33" cy="446.25" r="3.5"/>
<circle cx="412.67" cy="443.27" r="3.5"/>
<circle cx="414" cy="443.27" r="3.5"/>
<circle cx="413" cy="449.22" r="3.5"/>
<circle cx="414.67" cy="449.22" r="3.5"/>
<circle cx="416.33" cy="449.22" r="3.5"/>
<circle cx="418" cy="446.25" r="3.5"/>
<circle cx="420" cy="443.27" r="3.5"/>
<circle cx="422" cy="434.35" r="3.5"/>
<circle cx="423.8" cy="434.35" r="3.5"/>
<circle cx="425.6" cy="431.38" r="3.5"/>
<circle cx="426.6" cy="425.42" r="3.5"/>
<circle cx="428" cy="410.55" r="3.5"/>
<circle cx="430" cy="407.57" r="3.5"/>
<circle cx="432" cy="413.52" r="3.5"/>
<circle cx="433.67" cy="413.52" r="3.5"/>
<circle cx="435.33" cy="413.52" r="3.5"/>
<circle cx="437" cy="413.52" r="3.5"/>
<circle cx="439" cy="419.47" r="3.5"/>
<circle cx="440.33" cy="419.47" r="3.5"/>
<circle cx="441.67" cy="419.47" r="3.5"/>
<circle cx="443" cy="422.45" r="3.5"/>
<circle cx="445" cy="416.5" r="3.5"/>
<circle cx="446.4" cy="416.5" r="3.5"/>
<circle cx="447.8" cy="416.5" r="3.5"/>
<circle cx="449.2" cy="416.5" r="3.5"/>
<circle cx="450.6" cy="416.5" r="3.5"/>
<circle cx="452" cy="416.5" r="3.5"/>
<circle cx="453.5" cy="413.52" r="3.5"/>
<circle cx="455" cy="413.52" r="3.5"/>
<circle cx="456.5" cy="413.52" r="3.5"/>
<circle cx="458" cy="413.52" r="3.5"/>
<circle cx="459.5" cy="413.52" r="3.5"/>
<circle cx="461" cy="416.5" r="3.5"/>
<circle cx="462.33" cy="419.47" r="3.5"/>
<circle cx="463.67" cy="419.47" r="3.5"/>
<circle cx="465" cy="422.45" r="3.5"/>
<circle cx="466.33" cy="422.45" r="3.5"/>
<circle cx="467.67" cy="419.47" r="3.5"/>
<circle cx="469" cy="419.47" r="3.5"/>
<circle cx="470.5" cy="422.45" r="3.5"/>
<circle cx="472" cy="422.45" r="3.5"/>
<circle cx="473.33" cy="425.42" r="3.5"/>
<circle cx="474.67" cy="425.42" r="3.5"/>
<circle cx="476" cy="428.4" r="3.5"/>
<circle cx="477.33" cy="431.38" r="3.5"/>
<circle cx="478.67" cy="431.38" r="3.5"/>
<circle cx="480" cy="434.35" r="3.5"/>
<circle cx="481.67" cy="434.35" r="3.5"/>
<circle cx="483.33" cy="437.32" r="3.5"/>
<circle cx="485" cy="437.32" r="3.5"/>
<circle cx="486" cy="434.35" r="3.5"/>
<circle cx="488" cy="455.17" r="3.5"/>
<circle cx="489" cy="458.15" r="3.5"/>
<circle cx="490.4" cy="455.17" r="3.5"/>
<circle cx="492" cy="428.4" r="3.5"/>
<circle cx="494" cy="416.5" r="3.5"/>
<circle cx="495.5" cy="413.52" r="3.5"/>
<circle cx="497" cy="410.55" r="3.5"/>
<circle cx="499" cy="407.57" r="3.5"/>
<circle cx="501" cy="413.52" r="3.5"/>
<circle cx="502.5" cy="407.57" r="3.5"/>
<circle cx="504" cy="401.62" r="3.5"/>
<circle cx="505.6" cy="386.75" r="3.5"/>
<circle cx="507" cy="404.6" r="3.5"/>
<circle cx="508.5" cy="404.6" r="3.5"/>
<circle cx="510" cy="401.62" r="3.5"/>
<circle cx="511" cy="410.55" r="3.5"/>
<circle cx="512.5" cy="404.6" r="3.5"/>
<circle cx="514" cy="401.62" r="3.5"/>
<circle cx="515.5" cy="401.62" r="3.5"/>
<circle cx="517" cy="404.6" r="3.5"/>
<circle cx="518.33" cy="404.6" r="3.5"/>
<circle cx="519.67" cy="404.6" r="3.5"/>
<circle cx="521" cy="404.6" r="3.5"/>
<circle cx="523" cy="392.7" r="3.5"/>
<circle cx="524" cy="401.62" r="3.5"/>
<circle cx="526" cy="398.65" r="3.5"/>
<circle cx="524.67" cy="401.62" r="3.5"/>
<circle cx="523.33" cy="404.6" r="3.5"/>
<circle cx="522" cy="404.6" r="3.5"/>
<circle cx="523.67" cy="401.62" r="3.5"/>
<circle cx="525.33" cy="401.62" r="3.5"/>
<circle cx="527" cy="398.65" r="3.5"/>
<circle cx="528.5" cy="401.62" r="3.5"/>
<circle cx="530" cy="407.57" r="3.5"/>
<circle cx="532" cy="410.55" r="3.5"/>
<circle cx="533.5" cy="404.6" r="3.5"/>
<circle cx="535" cy="401.62" r="3.5"/>
<circle cx="537" cy="413.52" r="3.5"/>
<circle cx="538.67" cy="413.52" r="3.5"/>
<circle cx="540.33" cy="410.55" r="3.5"/>
<circle cx="542" cy="410.55" r="3.5"/>
<circle cx="543.67" cy="413.52" r="3.5"/>
<circle cx="545.33" cy="413.52" r="3.5"/>
<circle cx="547" cy="416.5" r="3.5"/>
<circle cx="549" cy="410.55" r="3.5"/>
<circle cx="550.5" cy="416.5" r="3.5"/>
<circle cx="552" cy="422.45" r="3.5"/>
<circle cx="554" cy="419.47" r="3.5"/>
<circle cx="555.5" cy="422.45" r="3.5"/>
<circle cx="557" cy="428.4" r="3.5"/>
<circle cx="559" cy="428.4" r="3.5"/>
<circle cx="561" cy="422.45" r="3.5"/>
<circle cx="562" cy="434.35" r="3.5"/>
<circle cx="564" cy="440.3" r="3.5"/>
<circle cx="565.33" cy="440.3" r="3.5"/>
<circle cx="566.67" cy="443.27" r="3.5"/>
<circle cx="568" cy="443.27" r="3.5"/>
<circle cx="566" cy="449.22" r="3.5"/>
<circle cx="567.67" cy="449.22" r="3.5"/>
<circle cx="569.33" cy="452.2" r="3.5"/>
<circle cx="571" cy="452.2" r="3.5"/>
<circle cx="572.5" cy="455.17" r="3.5"/>
<circle cx="574" cy="458.15" r="3.5"/>
<circle cx="575.33" cy="458.15" r="3.5"/>
<circle cx="576.67" cy="461.12" r="3.5"/>
<circle cx="578" cy="461.12" r="3.5"/>
<circle cx="580" cy="467.07" r="3.5"/>
<circle cx="582" cy="464.1" r="3.5"/>
<circle cx="583.5" cy="467.07" r="3.5"/>
<circle cx="585" cy="470.05" r="3.5"/>
<circle cx="586.33" cy="470.05" r="3.5"/>
<circle cx="587.67" cy="470.05" r="3.5"/>
<circle cx="589" cy="470.05" r="3.5"/>
<circle cx="590.33" cy="470.05" r="3.5"/>
<circle cx="591.67" cy="473.02" r="3.5"/>
<circle cx="593" cy="473.02" r="3.5"/>
<circle cx="594.33" cy="473.02" r="3.5"/>
<circle cx="595.67" cy="470.05" r="3.5"/>
<circle cx="597" cy="470.05" r="3.5"/>
<circle cx="598.33" cy="470.05" r="3.5"/>
<circle cx="599.67" cy="473.02" r="3.5"/>
<circle cx="601" cy="473.02" r="3.5"/>
<circle cx="602.33" cy="470.05" r="3.5"/>
<circle cx="603.67" cy="470.05" r="3.5"/>
<circle cx="605" cy="467.07" r="3.5"/>
<circle cx="607" cy="458.15" r="3.5"/>
<circle cx="608.33" cy="458.15" r="3.5"/>
<circle cx="609.67" cy="458.15" r="3.5"/>
<circle cx="611" cy="455.17" r="3.5"/>
<circle cx="613" cy="461.12" r="3.5"/>
<circle cx="614.5" cy="455.17" r="3.5"/>
<circle cx="616" cy="452.2" r="3.5"/>
<circle cx="595" cy="461.12" r="3.5"/>
<circle cx="618.4" cy="464.1" r="3.5"/>
<circle cx="618" cy="452.2" r="3.5"/>
<circle cx="619.5" cy="452.2" r="3.5"/>
<circle cx="621" cy="455.17" r="3.5"/>
<circle cx="622.33" cy="452.2" r="3.5"/>
<circle cx="623.67" cy="452.2" r="3.5"/>
<circle cx="625" cy="452.2" r="3.5"/>
<circle cx="626.67" cy="452.2" r="3.5"/>
<circle cx="628.33" cy="449.22" r="3.5"/>
<circle cx="630" cy="449.22" r="3.5"/>
<circle cx="631.5" cy="446.25" r="3.5"/>
<circle cx="633" cy="443.27" r="3.5"/>
<circle cx="634.67" cy="443.27" r="3.5"/>
<circle cx="636.33" cy="446.25" r="3.5"/>
<circle cx="638" cy="446.25" r="3.5"/>
<circle cx="639.5" cy="443.27" r="3.5"/>
<circle cx="641" cy="437.32" r="3.5"/>
<circle cx="642.5" cy="440.3" r="3.5"/>
<circle cx="644" cy="440.3" r="3.5"/>
<circle cx="646" cy="434.35" r="3.5"/>
<circle cx="647.33" cy="434.35" r="3.5"/>
<circle cx="648.67" cy="434.35" r="3.5"/>
<circle cx="650" cy="437.32" r="3.5"/>
<circle cx="652" cy="434.35" r="3.5"/>
<circle cx="654" cy="431.38" r="3.5"/>
</g>
<rect x="397.5" y="380.9" width="255.4" height="107" fill="none" stroke="#000" stroke-width="1.5"/>
<line x1="397.4" y1="487.9" x2="397.4" y2="493.4" stroke="#000" stroke-width="1.3"/>
<line x1="433.7" y1="487.9" x2="433.7" y2="493.4" stroke="#000" stroke-width="1.3"/>
<line x1="470.3" y1="487.9" x2="470.3" y2="493.4" stroke="#000" stroke-width="1.3"/>
<line x1="506.9" y1="487.9" x2="506.9" y2="493.4" stroke="#000" stroke-width="1.3"/>
<line x1="543.4" y1="487.9" x2="543.4" y2="493.4" stroke="#000" stroke-width="1.3"/>
<line x1="580" y1="487.9" x2="580" y2="493.4" stroke="#000" stroke-width="1.3"/>
<line x1="616.6" y1="487.9" x2="616.6" y2="493.4" stroke="#000" stroke-width="1.3"/>
<line x1="652.9" y1="487.9" x2="652.9" y2="493.4" stroke="#000" stroke-width="1.3"/>
<line x1="652.9" y1="487.9" x2="658.4" y2="487.9" stroke="#000" stroke-width="1.3"/>
<text x="664.8" y="493.9" font-size="16.7" font-weight="normal" fill="#000" text-anchor="start">0</text>
<line x1="652.9" y1="428.4" x2="658.4" y2="428.4" stroke="#000" stroke-width="1.3"/>
<text x="664.8" y="434.4" font-size="16.7" font-weight="normal" fill="#000" text-anchor="start">200</text>
<text x="397.58" y="376.1" font-size="16.7" font-weight="bold" fill="#000" text-anchor="start">F</text>
<rect x="91.5" y="509.6" width="255.3" height="107.3" fill="#fff"/>
<line x1="127.4" y1="509.6" x2="127.4" y2="616.9" stroke="#b0b0b0" stroke-width="1.4"/>
<line x1="163.8" y1="509.6" x2="163.8" y2="616.9" stroke="#b0b0b0" stroke-width="1.4"/>
<line x1="200.3" y1="509.6" x2="200.3" y2="616.9" stroke="#b0b0b0" stroke-width="1.4"/>
<line x1="236.8" y1="509.6" x2="236.8" y2="616.9" stroke="#b0b0b0" stroke-width="1.4"/>
<line x1="273.2" y1="509.6" x2="273.2" y2="616.9" stroke="#b0b0b0" stroke-width="1.4"/>
<line x1="309.5" y1="509.6" x2="309.5" y2="616.9" stroke="#b0b0b0" stroke-width="1.4"/>
<line x1="91.5" y1="563.2" x2="346.8" y2="563.2" stroke="#b0b0b0" stroke-width="1.4"/>
<clipPath id="c7"><rect x="91.5" y="509.6" width="255.3" height="107.3"/></clipPath>
<g clip-path="url(#c7)" fill="#ff0000">
<circle cx="92" cy="589.86" r="3.5"/>
<circle cx="93" cy="589.86" r="3.5"/>
<circle cx="95" cy="578.27" r="3.5"/>
<circle cx="96.33" cy="582.13" r="3.5"/>
<circle cx="97.67" cy="582.13" r="3.5"/>
<circle cx="99" cy="586" r="3.5"/>
<circle cx="100.33" cy="586" r="3.5"/>
<circle cx="101.67" cy="589.86" r="3.5"/>
<circle cx="103" cy="589.86" r="3.5"/>
<circle cx="104.33" cy="589.86" r="3.5"/>
<circle cx="105.67" cy="586" r="3.5"/>
<circle cx="107" cy="586" r="3.5"/>
<circle cx="108.33" cy="582.13" r="3.5"/>
<circle cx="109.67" cy="582.13" r="3.5"/>
<circle cx="111" cy="578.27" r="3.5"/>
<circle cx="112.33" cy="578.27" r="3.5"/>
<circle cx="113.67" cy="578.27" r="3.5"/>
<circle cx="115" cy="574.41" r="3.5"/>
<circle cx="116.5" cy="574.41" r="3.5"/>
<circle cx="118" cy="570.54" r="3.5"/>
<circle cx="119.5" cy="574.41" r="3.5"/>
<circle cx="121" cy="574.41" r="3.5"/>
<circle cx="123" cy="582.13" r="3.5"/>
<circle cx="124.5" cy="578.27" r="3.5"/>
<circle cx="126" cy="574.41" r="3.5"/>
<circle cx="128" cy="582.13" r="3.5"/>
<circle cx="130" cy="586" r="3.5"/>
<circle cx="131.4" cy="593.72" r="3.5"/>
<circle cx="133" cy="601.45" r="3.5"/>
<circle cx="134.5" cy="601.45" r="3.5"/>
<circle cx="136" cy="601.45" r="3.5"/>
<circle cx="137.5" cy="601.45" r="3.5"/>
<circle cx="139" cy="601.45" r="3.5"/>
<circle cx="140" cy="593.72" r="3.5"/>
<circle cx="141.5" cy="589.86" r="3.5"/>
<circle cx="143" cy="589.86" r="3.5"/>
<circle cx="144.33" cy="589.86" r="3.5"/>
<circle cx="145.67" cy="586" r="3.5"/>
<circle cx="147" cy="586" r="3.5"/>
<circle cx="148.5" cy="586" r="3.5"/>
<circle cx="150" cy="586" r="3.5"/>
<circle cx="151.33" cy="582.13" r="3.5"/>
<circle cx="152.67" cy="582.13" r="3.5"/>
<circle cx="154" cy="582.13" r="3.5"/>
<circle cx="155.5" cy="582.13" r="3.5"/>
<circle cx="157" cy="586" r="3.5"/>
<circle cx="155" cy="597.58" r="3.5"/>
<circle cx="156.5" cy="593.72" r="3.5"/>
<circle cx="158" cy="593.72" r="3.5"/>
<circle cx="160" cy="582.13" r="3.5"/>
<circle cx="161.33" cy="582.13" r="3.5"/>
<circle cx="162.67" cy="586" r="3.5"/>
<circle cx="164" cy="586" r="3.5"/>
<circle cx="166" cy="574.41" r="3.5"/>
<circle cx="167.4" cy="570.54" r="3.5"/>
<circle cx="169" cy="562.82" r="3.5"/>
<circle cx="170.5" cy="562.82" r="3.5"/>
<circle cx="172" cy="558.95" r="3.5"/>
<circle cx="173.33" cy="558.95" r="3.5"/>
<circle cx="174.67" cy="558.95" r="3.5"/>
<circle cx="176" cy="558.95" r="3.5"/>
<circle cx="174" cy="566.68" r="3.5"/>
<circle cx="175.67" cy="562.82" r="3.5"/>
<circle cx="177.33" cy="562.82" r="3.5"/>
<circle cx="179" cy="562.82" r="3.5"/>
<circle cx="180.33" cy="562.82" r="3.5"/>
<circle cx="181.67" cy="566.68" r="3.5"/>
<circle cx="183" cy="566.68" r="3.5"/>
<circle cx="184.5" cy="566.68" r="3.5"/>
<circle cx="186" cy="566.68" r="3.5"/>
<circle cx="187" cy="570.54" r="3.5"/>
<circle cx="188.6" cy="574.41" r="3.5"/>
<circle cx="190" cy="589.86" r="3.5"/>
<circle cx="191" cy="597.58" r="3.5"/>
<circle cx="192.5" cy="593.72" r="3.5"/>
<circle cx="194" cy="589.86" r="3.5"/>
<circle cx="196" cy="593.72" r="3.5"/>
<circle cx="198" cy="582.13" r="3.5"/>
<circle cx="199.5" cy="582.13" r="3.5"/>
<circle cx="201" cy="582.13" r="3.5"/>
<circle cx="202.5" cy="582.13" r="3.5"/>
<circle cx="204" cy="578.27" r="3.5"/>
<circle cx="205.5" cy="578.27" r="3.5"/>
<circle cx="207" cy="578.27" r="3.5"/>
<circle cx="208.6" cy="570.54" r="3.5"/>
<circle cx="210.3" cy="570.54" r="3.5"/>
<circle cx="212" cy="574.41" r="3.5"/>
<circle cx="213.5" cy="574.41" r="3.5"/>
<circle cx="215" cy="574.41" r="3.5"/>
<circle cx="216.5" cy="574.41" r="3.5"/>
<circle cx="218" cy="574.41" r="3.5"/>
<circle cx="219.5" cy="578.27" r="3.5"/>
<circle cx="221" cy="578.27" r="3.5"/>
<circle cx="222" cy="586" r="3.5"/>
<circle cx="224" cy="593.72" r="3.5"/>
<circle cx="210" cy="574.41" r="3.5"/>
<circle cx="211.33" cy="574.41" r="3.5"/>
<circle cx="212.67" cy="574.41" r="3.5"/>
<circle cx="214" cy="578.27" r="3.5"/>
<circle cx="215.67" cy="574.41" r="3.5"/>
<circle cx="217.33" cy="574.41" r="3.5"/>
<circle cx="219" cy="574.41" r="3.5"/>
<circle cx="220" cy="578.27" r="3.5"/>
<circle cx="222" cy="586" r="3.5"/>
<circle cx="224" cy="593.72" r="3.5"/>
<circle cx="226" cy="597.58" r="3.5"/>
<circle cx="228" cy="605.31" r="3.5"/>
<circle cx="229.5" cy="605.31" r="3.5"/>
<circle cx="231" cy="605.31" r="3.5"/>
<circle cx="232.5" cy="609.17" r="3.5"/>
<circle cx="234" cy="613.04" r="3.5"/>
<circle cx="235.33" cy="613.04" r="3.5"/>
<circle cx="236.67" cy="613.04" r="3.5"/>
<circle cx="238" cy="613.04" r="3.5"/>
<circle cx="239.5" cy="613.04" r="3.5"/>
<circle cx="241" cy="609.17" r="3.5"/>
<circle cx="242.33" cy="609.17" r="3.5"/>
<circle cx="243.67" cy="609.17" r="3.5"/>
<circle cx="245" cy="605.31" r="3.5"/>
<circle cx="246.33" cy="605.31" r="3.5"/>
<circle cx="247.67" cy="601.45" r="3.5"/>
<circle cx="249" cy="601.45" r="3.5"/>
<circle cx="250.5" cy="601.45" r="3.5"/>
<circle cx="252" cy="597.58" r="3.5"/>
<circle cx="253.5" cy="593.72" r="3.5"/>
<circle cx="255" cy="593.72" r="3.5"/>
<circle cx="256.5" cy="589.86" r="3.5"/>
<circle cx="258" cy="589.86" r="3.5"/>
<circle cx="259.5" cy="589.86" r="3.5"/>
<circle cx="261" cy="593.72" r="3.5"/>
<circle cx="262.5" cy="597.58" r="3.5"/>
<circle cx="264" cy="597.58" r="3.5"/>
<circle cx="265.33" cy="597.58" r="3.5"/>
<circle cx="266.67" cy="597.58" r="3.5"/>
<circle cx="268" cy="593.72" r="3.5"/>
<circle cx="269.33" cy="593.72" r="3.5"/>
<circle cx="270.67" cy="593.72" r="3.5"/>
<circle cx="272" cy="593.72" r="3.5"/>
<circle cx="273.5" cy="589.86" r="3.5"/>
<circle cx="275" cy="586" r="3.5"/>
<circle cx="276.5" cy="589.86" r="3.5"/>
<circle cx="278" cy="593.72" r="3.5"/>
<circle cx="279.33" cy="593.72" r="3.5"/>
<circle cx="280.67" cy="593.72" r="3.5"/>
<circle cx="282" cy="593.72" r="3.5"/>
<circle cx="283.5" cy="589.86" r="3.5"/>
<circle cx="285" cy="589.86" r="3.5"/>
<circle cx="286.5" cy="586" r="3.5"/>
<circle cx="288" cy="582.13" r="3.5"/>
<circle cx="290" cy="578.27" r="3.5"/>
<circle cx="291.2" cy="578.27" r="3.5"/>
<circle cx="292.4" cy="574.41" r="3.5"/>
<circle cx="294" cy="582.13" r="3.5"/>
<circle cx="296" cy="589.86" r="3.5"/>
<circle cx="299.6" cy="582.13" r="3.5"/>
<circle cx="298" cy="589.86" r="3.5"/>
<circle cx="299.5" cy="589.86" r="3.5"/>
<circle cx="301" cy="589.86" r="3.5"/>
<circle cx="303" cy="593.72" r="3.5"/>
<circle cx="304.5" cy="597.58" r="3.5"/>
<circle cx="306" cy="597.58" r="3.5"/>
<circle cx="307.33" cy="597.58" r="3.5"/>
<circle cx="308.67" cy="597.58" r="3.5"/>
<circle cx="310" cy="597.58" r="3.5"/>
<circle cx="311.5" cy="601.45" r="3.5"/>
<circle cx="313" cy="605.31" r="3.5"/>
<circle cx="314.33" cy="605.31" r="3.5"/>
<circle cx="315.67" cy="601.45" r="3.5"/>
<circle cx="317" cy="601.45" r="3.5"/>
<circle cx="318.5" cy="605.31" r="3.5"/>
<circle cx="320" cy="605.31" r="3.5"/>
<circle cx="321.33" cy="605.31" r="3.5"/>
<circle cx="322.67" cy="601.45" r="3.5"/>
<circle cx="324" cy="601.45" r="3.5"/>
<circle cx="325.5" cy="601.45" r="3.5"/>
<circle cx="327" cy="601.45" r="3.5"/>
<circle cx="328.5" cy="601.45" r="3.5"/>
<circle cx="330" cy="601.45" r="3.5"/>
<circle cx="331.33" cy="601.45" r="3.5"/>
<circle cx="332.67" cy="601.45" r="3.5"/>
<circle cx="334" cy="601.45" r="3.5"/>
<circle cx="336" cy="609.17" r="3.5"/>
<circle cx="338" cy="613.04" r="3.5"/>
<circle cx="340" cy="613.04" r="3.5"/>
<circle cx="342" cy="609.17" r="3.5"/>
<circle cx="343.5" cy="609.17" r="3.5"/>
<circle cx="345" cy="609.17" r="3.5"/>
<circle cx="347" cy="605.31" r="3.5"/>
</g>
<rect x="91.5" y="509.6" width="255.3" height="107.3" fill="none" stroke="#000" stroke-width="1.5"/>
<line x1="91.1" y1="616.9" x2="91.1" y2="622.4" stroke="#000" stroke-width="1.3"/>
<text x="91.1" y="641.7" font-size="16.7" font-weight="normal" fill="#000" text-anchor="middle">10-03</text>
<line x1="127.4" y1="616.9" x2="127.4" y2="622.4" stroke="#000" stroke-width="1.3"/>
<line x1="163.8" y1="616.9" x2="163.8" y2="622.4" stroke="#000" stroke-width="1.3"/>
<text x="163.8" y="641.7" font-size="16.7" font-weight="normal" fill="#000" text-anchor="middle">12-03</text>
<line x1="200.3" y1="616.9" x2="200.3" y2="622.4" stroke="#000" stroke-width="1.3"/>
<line x1="236.8" y1="616.9" x2="236.8" y2="622.4" stroke="#000" stroke-width="1.3"/>
<text x="236.8" y="641.7" font-size="16.7" font-weight="normal" fill="#000" text-anchor="middle">14-03</text>
<line x1="273.2" y1="616.9" x2="273.2" y2="622.4" stroke="#000" stroke-width="1.3"/>
<line x1="309.5" y1="616.9" x2="309.5" y2="622.4" stroke="#000" stroke-width="1.3"/>
<text x="309.5" y="641.7" font-size="16.7" font-weight="normal" fill="#000" text-anchor="middle">16-03</text>
<line x1="346.8" y1="616.9" x2="346.8" y2="622.4" stroke="#000" stroke-width="1.3"/>
<line x1="86" y1="616.9" x2="91.5" y2="616.9" stroke="#000" stroke-width="1.3"/>
<text x="79" y="622.9" font-size="16.7" font-weight="normal" fill="#000" text-anchor="end">0</text>
<line x1="86" y1="563.2" x2="91.5" y2="563.2" stroke="#000" stroke-width="1.3"/>
<text x="79" y="569.2" font-size="16.7" font-weight="normal" fill="#000" text-anchor="end">50</text>
<line x1="86" y1="509.6" x2="91.5" y2="509.6" stroke="#000" stroke-width="1.3"/>
<text x="79" y="515.6" font-size="16.7" font-weight="normal" fill="#000" text-anchor="end">100</text>
<text x="91.61" y="506" font-size="16.7" font-weight="bold" fill="#000" text-anchor="start">G</text>
<rect x="397.5" y="509.6" width="255.4" height="107.3" fill="#fff"/>
<line x1="433.7" y1="509.6" x2="433.7" y2="616.9" stroke="#b0b0b0" stroke-width="1.4"/>
<line x1="470.3" y1="509.6" x2="470.3" y2="616.9" stroke="#b0b0b0" stroke-width="1.4"/>
<line x1="506.9" y1="509.6" x2="506.9" y2="616.9" stroke="#b0b0b0" stroke-width="1.4"/>
<line x1="543.4" y1="509.6" x2="543.4" y2="616.9" stroke="#b0b0b0" stroke-width="1.4"/>
<line x1="580" y1="509.6" x2="580" y2="616.9" stroke="#b0b0b0" stroke-width="1.4"/>
<line x1="616.6" y1="509.6" x2="616.6" y2="616.9" stroke="#b0b0b0" stroke-width="1.4"/>
<line x1="397.5" y1="563.2" x2="652.9" y2="563.2" stroke="#b0b0b0" stroke-width="1.4"/>
<clipPath id="c8"><rect x="397.5" y="509.6" width="255.4" height="107.3"/></clipPath>
<g clip-path="url(#c8)" fill="#ff0000">
<circle cx="398" cy="601.45" r="3.5"/>
<circle cx="399" cy="601.45" r="3.5"/>
<circle cx="400.7" cy="597.58" r="3.5"/>
<circle cx="402.4" cy="593.72" r="3.5"/>
<circle cx="403.7" cy="597.58" r="3.5"/>
<circle cx="405" cy="601.45" r="3.5"/>
<circle cx="406.33" cy="601.45" r="3.5"/>
<circle cx="407.67" cy="601.45" r="3.5"/>
<circle cx="409" cy="601.45" r="3.5"/>
<circle cx="410.67" cy="601.45" r="3.5"/>
<circle cx="412.33" cy="601.45" r="3.5"/>
<circle cx="414" cy="601.45" r="3.5"/>
<circle cx="415.33" cy="605.31" r="3.5"/>
<circle cx="416.67" cy="605.31" r="3.5"/>
<circle cx="418" cy="605.31" r="3.5"/>
<circle cx="419.33" cy="609.17" r="3.5"/>
<circle cx="420.67" cy="609.17" r="3.5"/>
<circle cx="422" cy="609.17" r="3.5"/>
<circle cx="423.5" cy="609.17" r="3.5"/>
<circle cx="425" cy="605.31" r="3.5"/>
<circle cx="426.5" cy="605.31" r="3.5"/>
<circle cx="428" cy="601.45" r="3.5"/>
<circle cx="430" cy="589.86" r="3.5"/>
<circle cx="431.4" cy="589.86" r="3.5"/>
<circle cx="432.8" cy="589.86" r="3.5"/>
<circle cx="434.2" cy="589.86" r="3.5"/>
<circle cx="435.6" cy="589.86" r="3.5"/>
<circle cx="437" cy="589.86" r="3.5"/>
<circle cx="438.5" cy="593.72" r="3.5"/>
<circle cx="440" cy="597.58" r="3.5"/>
<circle cx="441.5" cy="597.58" r="3.5"/>
<circle cx="443" cy="597.58" r="3.5"/>
<circle cx="444.5" cy="597.58" r="3.5"/>
<circle cx="446" cy="597.58" r="3.5"/>
<circle cx="448" cy="593.72" r="3.5"/>
<circle cx="450" cy="589.86" r="3.5"/>
<circle cx="451.33" cy="589.86" r="3.5"/>
<circle cx="452.67" cy="589.86" r="3.5"/>
<circle cx="454" cy="589.86" r="3.5"/>
<circle cx="455.5" cy="589.86" r="3.5"/>
<circle cx="457" cy="593.72" r="3.5"/>
<circle cx="458.7" cy="589.86" r="3.5"/>
<circle cx="460.4" cy="589.86" r="3.5"/>
<circle cx="461.7" cy="589.86" r="3.5"/>
<circle cx="463" cy="593.72" r="3.5"/>
<circle cx="464.67" cy="593.72" r="3.5"/>
<circle cx="466.33" cy="593.72" r="3.5"/>
<circle cx="468" cy="593.72" r="3.5"/>
<circle cx="470" cy="597.58" r="3.5"/>
<circle cx="471.5" cy="593.72" r="3.5"/>
<circle cx="473" cy="593.72" r="3.5"/>
<circle cx="474.67" cy="593.72" r="3.5"/>
<circle cx="476.33" cy="593.72" r="3.5"/>
<circle cx="478" cy="593.72" r="3.5"/>
<circle cx="479.5" cy="593.72" r="3.5"/>
<circle cx="481" cy="597.58" r="3.5"/>
<circle cx="482" cy="601.45" r="3.5"/>
<circle cx="484" cy="597.58" r="3.5"/>
<circle cx="485.33" cy="601.45" r="3.5"/>
<circle cx="486.67" cy="601.45" r="3.5"/>
<circle cx="488" cy="601.45" r="3.5"/>
<circle cx="489.5" cy="605.31" r="3.5"/>
<circle cx="491" cy="605.31" r="3.5"/>
<circle cx="493" cy="609.17" r="3.5"/>
<circle cx="494.33" cy="609.17" r="3.5"/>
<circle cx="495.67" cy="609.17" r="3.5"/>
<circle cx="497" cy="609.17" r="3.5"/>
<circle cx="498" cy="601.45" r="3.5"/>
<circle cx="499.6" cy="593.72" r="3.5"/>
<circle cx="501" cy="597.58" r="3.5"/>
<circle cx="502.5" cy="597.58" r="3.5"/>
<circle cx="504" cy="597.58" r="3.5"/>
<circle cx="506" cy="605.31" r="3.5"/>
<circle cx="507.5" cy="609.17" r="3.5"/>
<circle cx="509" cy="609.17" r="3.5"/>
<circle cx="510.5" cy="609.17" r="3.5"/>
<circle cx="512" cy="609.17" r="3.5"/>
<circle cx="513.5" cy="605.31" r="3.5"/>
<circle cx="515" cy="605.31" r="3.5"/>
<circle cx="516.5" cy="605.31" r="3.5"/>
<circle cx="518" cy="601.45" r="3.5"/>
<circle cx="519.33" cy="601.45" r="3.5"/>
<circle cx="520.67" cy="597.58" r="3.5"/>
<circle cx="522" cy="597.58" r="3.5"/>
<circle cx="523.5" cy="601.45" r="3.5"/>
<circle cx="525" cy="605.31" r="3.5"/>
<circle cx="526.33" cy="605.31" r="3.5"/>
<circle cx="527.67" cy="605.31" r="3.5"/>
<circle cx="529" cy="605.31" r="3.5"/>
<circle cx="530.5" cy="601.45" r="3.5"/>
<circle cx="532" cy="601.45" r="3.5"/>
<circle cx="533.6" cy="601.45" r="3.5"/>
<circle cx="535.2" cy="601.45" r="3.5"/>
<circle cx="536.8" cy="601.45" r="3.5"/>
<circle cx="538.4" cy="601.45" r="3.5"/>
<circle cx="540" cy="601.45" r="3.5"/>
<circle cx="544" cy="609.17" r="3.5"/>
<circle cx="546" cy="601.45" r="3.5"/>
<circle cx="547.33" cy="601.45" r="3.5"/>
<circle cx="548.67" cy="605.31" r="3.5"/>
<circle cx="550" cy="605.31" r="3.5"/>
<circle cx="552" cy="609.17" r="3.5"/>
<circle cx="553.33" cy="609.17" r="3.5"/>
<circle cx="554.67" cy="605.31" r="3.5"/>
<circle cx="556" cy="605.31" r="3.5"/>
<circle cx="557.5" cy="609.17" r="3.5"/>
<circle cx="559" cy="609.17" r="3.5"/>
<circle cx="560.5" cy="609.17" r="3.5"/>
<circle cx="562" cy="609.17" r="3.5"/>
<circle cx="563.5" cy="609.17" r="3.5"/>
<circle cx="565" cy="609.17" r="3.5"/>
<circle cx="566.5" cy="609.17" r="3.5"/>
<circle cx="568" cy="609.17" r="3.5"/>
<circle cx="569.5" cy="605.31" r="3.5"/>
<circle cx="571" cy="605.31" r="3.5"/>
<circle cx="572.5" cy="605.31" r="3.5"/>
<circle cx="574" cy="601.45" r="3.5"/>
<circle cx="575.5" cy="601.45" r="3.5"/>
<circle cx="577" cy="601.45" r="3.5"/>
<circle cx="578.5" cy="601.45" r="3.5"/>
<circle cx="580" cy="605.31" r="3.5"/>
<circle cx="581.67" cy="601.45" r="3.5"/>
<circle cx="583.33" cy="601.45" r="3.5"/>
<circle cx="585" cy="601.45" r="3.5"/>
<circle cx="586.4" cy="601.45" r="3.5"/>
<circle cx="587.8" cy="601.45" r="3.5"/>
<circle cx="589.2" cy="601.45" r="3.5"/>
<circle cx="590.6" cy="601.45" r="3.5"/>
<circle cx="592" cy="601.45" r="3.5"/>
<circle cx="593.5" cy="601.45" r="3.5"/>
<circle cx="595" cy="605.31" r="3.5"/>
<circle cx="597" cy="597.58" r="3.5"/>
<circle cx="598.33" cy="597.58" r="3.5"/>
<circle cx="599.67" cy="597.58" r="3.5"/>
<circle cx="601" cy="597.58" r="3.5"/>
<circle cx="603" cy="601.45" r="3.5"/>
<circle cx="604.5" cy="601.45" r="3.5"/>
<circle cx="606" cy="601.45" r="3.5"/>
<circle cx="607.5" cy="601.45" r="3.5"/>
<circle cx="609" cy="601.45" r="3.5"/>
<circle cx="610" cy="609.17" r="3.5"/>
<circle cx="611.6" cy="609.17" r="3.5"/>
<circle cx="613.2" cy="609.17" r="3.5"/>
<circle cx="614.8" cy="609.17" r="3.5"/>
<circle cx="616.4" cy="609.17" r="3.5"/>
<circle cx="618" cy="609.17" r="3.5"/>
<circle cx="619.33" cy="609.17" r="3.5"/>
<circle cx="620.67" cy="605.31" r="3.5"/>
<circle cx="622" cy="605.31" r="3.5"/>
<circle cx="624" cy="609.17" r="3.5"/>
<circle cx="625.33" cy="605.31" r="3.5"/>
<circle cx="626.67" cy="605.31" r="3.5"/>
<circle cx="628" cy="605.31" r="3.5"/>
<circle cx="629.67" cy="601.45" r="3.5"/>
<circle cx="631.33" cy="601.45" r="3.5"/>
<circle cx="633" cy="601.45" r="3.5"/>
<circle cx="634.33" cy="601.45" r="3.5"/>
<circle cx="635.67" cy="601.45" r="3.5"/>
<circle cx="637" cy="601.45" r="3.5"/>
<circle cx="638.5" cy="605.31" r="3.5"/>
<circle cx="640" cy="605.31" r="3.5"/>
<circle cx="641.5" cy="605.31" r="3.5"/>
<circle cx="643" cy="609.17" r="3.5"/>
<circle cx="644.5" cy="605.31" r="3.5"/>
<circle cx="646" cy="605.31" r="3.5"/>
<circle cx="647.33" cy="601.45" r="3.5"/>
<circle cx="648.67" cy="601.45" r="3.5"/>
<circle cx="650" cy="601.45" r="3.5"/>
<circle cx="651" cy="605.31" r="3.5"/>
<circle cx="653" cy="601.45" r="3.5"/>
</g>
<rect x="397.5" y="509.6" width="255.4" height="107.3" fill="none" stroke="#000" stroke-width="1.5"/>
<line x1="397.4" y1="616.9" x2="397.4" y2="622.4" stroke="#000" stroke-width="1.3"/>
<text x="397.4" y="641.7" font-size="16.7" font-weight="normal" fill="#000" text-anchor="middle">22-12</text>
<line x1="433.7" y1="616.9" x2="433.7" y2="622.4" stroke="#000" stroke-width="1.3"/>
<line x1="470.3" y1="616.9" x2="470.3" y2="622.4" stroke="#000" stroke-width="1.3"/>
<text x="470.3" y="641.7" font-size="16.7" font-weight="normal" fill="#000" text-anchor="middle">24-12</text>
<line x1="506.9" y1="616.9" x2="506.9" y2="622.4" stroke="#000" stroke-width="1.3"/>
<line x1="543.4" y1="616.9" x2="543.4" y2="622.4" stroke="#000" stroke-width="1.3"/>
<text x="543.4" y="641.7" font-size="16.7" font-weight="normal" fill="#000" text-anchor="middle">26-12</text>
<line x1="580" y1="616.9" x2="580" y2="622.4" stroke="#000" stroke-width="1.3"/>
<line x1="616.6" y1="616.9" x2="616.6" y2="622.4" stroke="#000" stroke-width="1.3"/>
<text x="616.6" y="641.7" font-size="16.7" font-weight="normal" fill="#000" text-anchor="middle">28-12</text>
<line x1="652.9" y1="616.9" x2="652.9" y2="622.4" stroke="#000" stroke-width="1.3"/>
<line x1="652.9" y1="616.9" x2="658.4" y2="616.9" stroke="#000" stroke-width="1.3"/>
<text x="664.8" y="622.9" font-size="16.7" font-weight="normal" fill="#000" text-anchor="start">0</text>
<line x1="652.9" y1="563.2" x2="658.4" y2="563.2" stroke="#000" stroke-width="1.3"/>
<text x="664.8" y="569.2" font-size="16.7" font-weight="normal" fill="#000" text-anchor="start">50</text>
<line x1="652.9" y1="509.6" x2="658.4" y2="509.6" stroke="#000" stroke-width="1.3"/>
<text x="664.8" y="515.6" font-size="16.7" font-weight="normal" fill="#000" text-anchor="start">100</text>
<text x="396.98" y="506" font-size="16.7" font-weight="bold" fill="#000" text-anchor="start">H</text>
<text x="219.15" y="13.8" font-size="16.7" font-weight="bold" fill="#000" text-anchor="middle">Windy</text>
<text x="524.5" y="13.8" font-size="16.7" font-weight="bold" fill="#000" text-anchor="middle">Calm</text>
<text x="217.8" y="54.3" font-size="16.7" font-weight="bold" fill="#000" text-anchor="middle">std=5.2</text>
<text x="525.2" y="54.3" font-size="16.7" font-weight="bold" fill="#000" text-anchor="middle">std=3.0</text>
<text x="217.8" y="218" font-size="16.7" font-weight="bold" fill="#000" text-anchor="middle">std=1.3</text>
<text x="525.2" y="218" font-size="16.7" font-weight="bold" fill="#000" text-anchor="middle">std=0.5</text>
<line x1="92.3" y1="162.2" x2="276" y2="162.2" stroke="#808080" stroke-width="3.3" stroke-dasharray="12.2 5.5"/>
<line x1="450.2" y1="162.2" x2="653.3" y2="162.2" stroke="#808080" stroke-width="3.3" stroke-dasharray="12.2 5.5"/>
<text x="362.7" y="166.8" font-size="16.7" font-weight="bold" fill="#808080" text-anchor="middle">vegetation edge</text>
<line x1="90.4" y1="343.8" x2="654.3" y2="343.8" stroke="#000" stroke-width="2.9"/>
<text x="14.2" y="161.3" font-size="16.7" font-weight="normal" fill="#000" text-anchor="middle" transform="rotate(-90 14.2 161.3)">relative bed</text>
<text x="33.2" y="161.2" font-size="16.7" font-weight="normal" fill="#000" text-anchor="middle" transform="rotate(-90 33.2 161.2)">level (mm)</text>
<text x="371.4" y="79.5" font-size="16.7" font-weight="bold" fill="#000" text-anchor="middle" transform="rotate(-90 371.4 79.5)">50m veg.</text>
<text x="389.8" y="82.9" font-size="16.7" font-weight="bold" fill="#000" text-anchor="middle" transform="rotate(-90 389.8 82.9)">absent</text>
<text x="371.4" y="244" font-size="16.7" font-weight="bold" fill="#000" text-anchor="middle" transform="rotate(-90 371.4 244)">-20m veg.</text>
<text x="389.8" y="253.3" font-size="16.7" font-weight="bold" fill="#000" text-anchor="middle" transform="rotate(-90 389.8 253.3)">present</text>
<text x="14.6" y="438" font-size="16.7" font-weight="normal" fill="#000" text-anchor="middle" transform="rotate(-90 14.6 438)">wind</text>
<text transform="translate(34.4 472.5) rotate(-90)" font-size="16.7"><tspan x="0">dir.</tspan><tspan x="36.6">(</tspan><tspan x="48.5" dy="-5.7" font-size="11.7" text-anchor="middle">∘</tspan><tspan x="52" dy="5.7">N)</tspan></text>
<text x="18.3" y="567" font-size="16.7" font-weight="normal" fill="#000" text-anchor="middle" transform="rotate(-90 18.3 567)">wind</text>
<text x="36.4" y="565" font-size="16.7" font-weight="normal" fill="#000" text-anchor="middle" transform="rotate(-90 36.4 565)">speed (km/h)</text>
<text x="218.15" y="665" font-size="16.7" font-weight="normal" fill="#000" text-anchor="middle">time (day-month-2020)</text>
<text x="524.2" y="665" font-size="16.7" font-weight="normal" fill="#000" text-anchor="middle">time (day-month-2019)</text>
</svg>
</body>
</html>
